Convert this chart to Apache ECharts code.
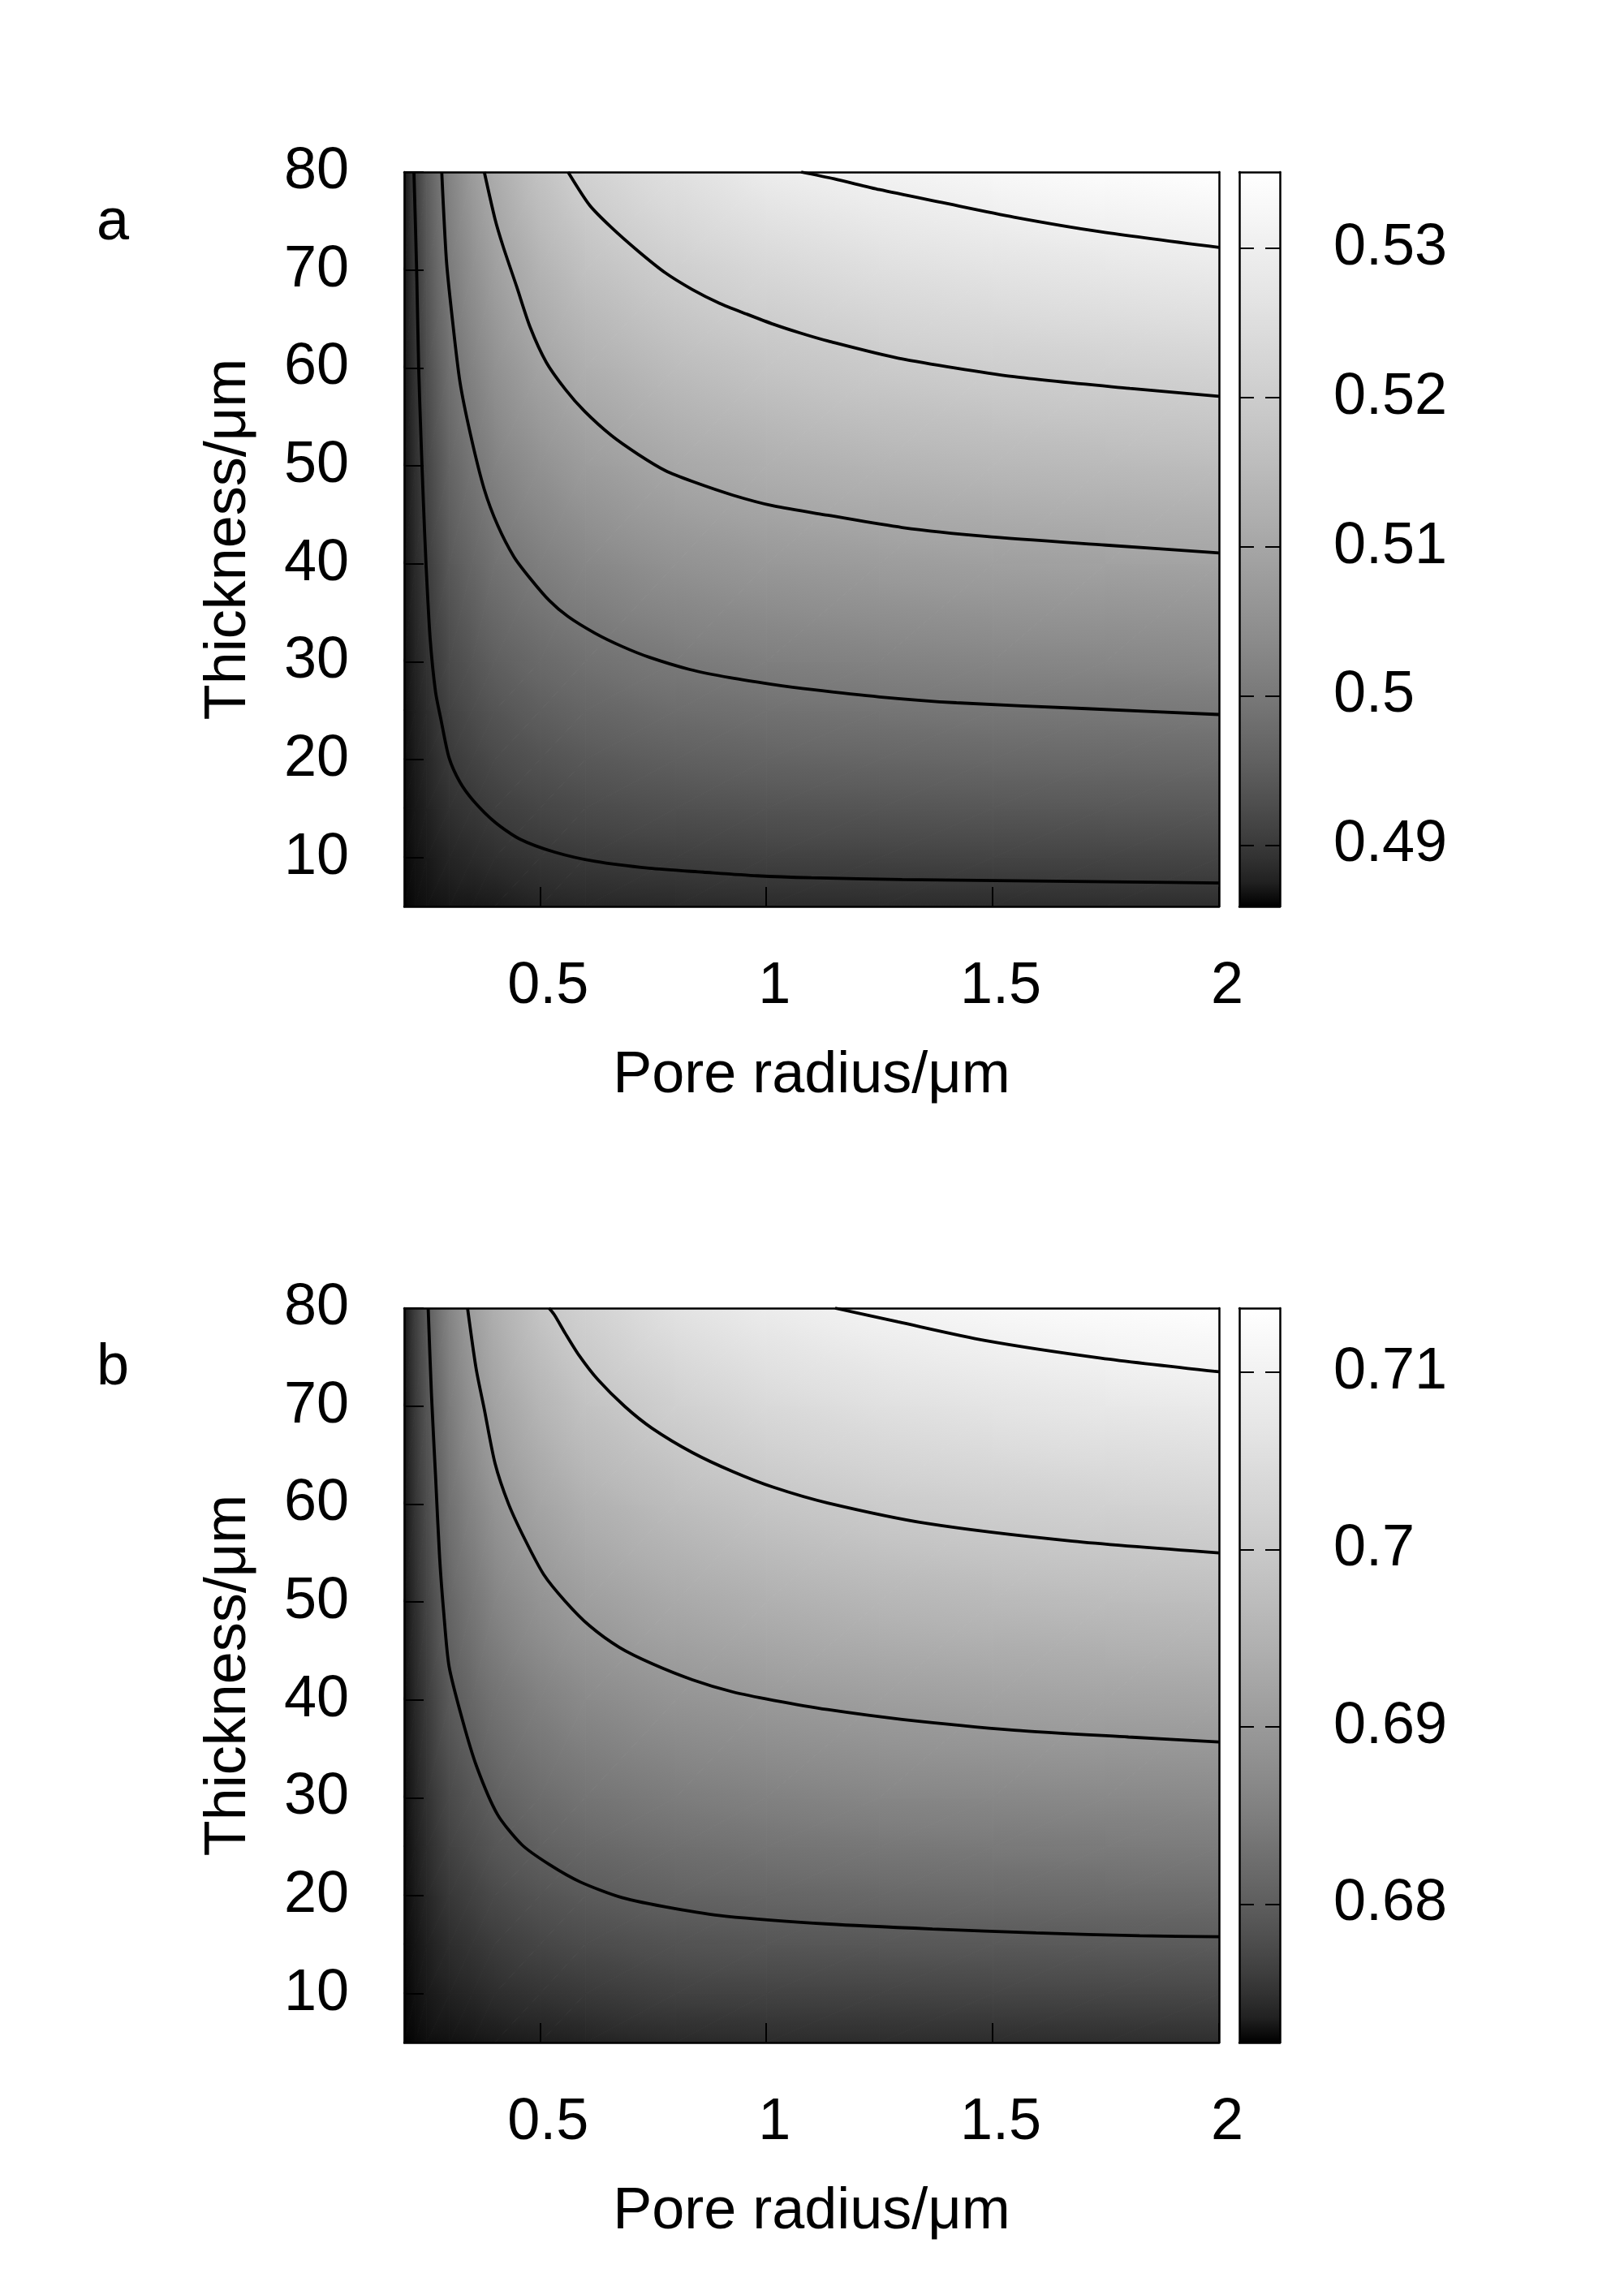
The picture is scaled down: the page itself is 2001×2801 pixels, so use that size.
<!DOCTYPE html>
<html>
<head>
<meta charset="utf-8">
<script src="https://cdn.jsdelivr.net/npm/echarts@6.0.0/dist/echarts.min.js"></script>
<style>
    html, body { margin: 0; padding: 0; background: #fff; }
    #chart { width: 2001px; height: 2801px; }
</style>
</head>
<body>
<div id="chart"></div>
<script>
// grid nodes of the maps (pore radius / thickness, both in um)
var radiusCols = [0.2, 0.225, 0.25, 0.3, 0.35, 0.4, 0.5, 0.6, 0.8, 1.0, 1.25, 1.5, 1.75, 2.0];
var thicknessRows = [5, 10, 15, 20, 25, 30, 40, 50, 60, 70, 80];

var xTicks = [0.5, 1, 1.5, 2];
var yTicks = [10, 20, 30, 40, 50, 60, 70, 80];

var cbRangeA = [0.4859, 0.5351];
var cbTicksA = [0.49, 0.50, 0.51, 0.52, 0.53];
var cbRangeB = [0.6722, 0.7136];
var cbTicksB = [0.68, 0.69, 0.70, 0.71];

// panel a values, one array per radius column, bottom to top
var valuesA = [
    [0.4859, 0.4860, 0.4860, 0.4861, 0.4861, 0.4862, 0.4863, 0.4864, 0.4865, 0.4866, 0.4867],
    [0.4862, 0.4865, 0.4868, 0.4871, 0.4874, 0.4877, 0.4883, 0.4888, 0.4892, 0.4897, 0.4904],
    [0.4864, 0.4869, 0.4875, 0.4880, 0.4885, 0.4891, 0.4902, 0.4913, 0.4926, 0.4938, 0.4950],
    [0.4867, 0.4878, 0.4889, 0.4900, 0.4910, 0.4921, 0.4942, 0.4962, 0.4983, 0.5004, 0.5022],
    [0.4868, 0.4883, 0.4897, 0.4911, 0.4924, 0.4938, 0.4965, 0.4993, 0.5020, 0.5047, 0.5074],
    [0.4870, 0.4888, 0.4905, 0.4921, 0.4937, 0.4954, 0.4987, 0.5019, 0.5051, 0.5083, 0.5115],
    [0.4877, 0.4896, 0.4915, 0.4934, 0.4953, 0.4972, 0.5011, 0.5051, 0.5092, 0.5132, 0.5172],
    [0.4880, 0.4901, 0.4922, 0.4943, 0.4964, 0.4985, 0.5029, 0.5075, 0.5121, 0.5167, 0.5212],
    [0.4882, 0.4906, 0.4930, 0.4954, 0.4978, 0.5002, 0.5053, 0.5105, 0.5155, 0.5205, 0.5256],
    [0.4884, 0.4910, 0.4935, 0.4961, 0.4986, 0.5012, 0.5067, 0.5121, 0.5175, 0.5230, 0.5290],
    [0.4885, 0.4911, 0.4938, 0.4965, 0.4992, 0.5020, 0.5077, 0.5135, 0.5193, 0.5251, 0.5310],
    [0.4885, 0.4913, 0.4941, 0.4969, 0.4997, 0.5026, 0.5084, 0.5144, 0.5204, 0.5265, 0.5326],
    [0.4886, 0.4914, 0.4943, 0.4971, 0.4999, 0.5029, 0.5089, 0.5150, 0.5212, 0.5276, 0.5340],
    [0.4886, 0.4915, 0.4944, 0.4973, 0.5002, 0.5033, 0.5093, 0.5156, 0.5219, 0.5285, 0.5351]
];

// panel b values
var valuesB = [
    [0.6722, 0.6722, 0.6723, 0.6723, 0.6723, 0.6724, 0.6724, 0.6725, 0.6726, 0.6726, 0.6727],
    [0.6723, 0.6726, 0.6728, 0.6731, 0.6733, 0.6736, 0.6741, 0.6746, 0.6752, 0.6757, 0.6762],
    [0.6725, 0.6730, 0.6734, 0.6739, 0.6744, 0.6749, 0.6758, 0.6768, 0.6777, 0.6787, 0.6796],
    [0.6726, 0.6736, 0.6745, 0.6755, 0.6765, 0.6774, 0.6794, 0.6811, 0.6828, 0.6844, 0.6861],
    [0.6728, 0.6740, 0.6752, 0.6764, 0.6777, 0.6789, 0.6813, 0.6836, 0.6860, 0.6884, 0.6908],
    [0.6730, 0.6745, 0.6759, 0.6774, 0.6789, 0.6803, 0.6831, 0.6860, 0.6888, 0.6917, 0.6943],
    [0.6733, 0.6751, 0.6769, 0.6786, 0.6804, 0.6821, 0.6854, 0.6888, 0.6922, 0.6956, 0.6990],
    [0.6736, 0.6756, 0.6776, 0.6795, 0.6814, 0.6833, 0.6870, 0.6908, 0.6946, 0.6984, 0.7020],
    [0.6741, 0.6764, 0.6785, 0.6806, 0.6826, 0.6847, 0.6889, 0.6931, 0.6973, 0.7016, 0.7061],
    [0.6743, 0.6766, 0.6789, 0.6811, 0.6833, 0.6855, 0.6899, 0.6945, 0.6991, 0.7038, 0.7085],
    [0.6744, 0.6767, 0.6791, 0.6815, 0.6839, 0.6863, 0.6908, 0.6958, 0.7006, 0.7055, 0.7105],
    [0.6744, 0.6769, 0.6793, 0.6818, 0.6842, 0.6866, 0.6914, 0.6965, 0.7014, 0.7066, 0.7118],
    [0.6745, 0.6770, 0.6795, 0.6820, 0.6844, 0.6869, 0.6919, 0.6970, 0.7021, 0.7075, 0.7128],
    [0.6746, 0.6771, 0.6796, 0.6821, 0.6846, 0.6871, 0.6922, 0.6974, 0.7027, 0.7081, 0.7136]
];

// contour lines, [radius, thickness]
var contourA049 = [[0.2215, 80], [0.2275, 70], [0.232, 60], [0.237, 53], [0.2425, 46.2], [0.2484, 39.8],
    [0.2573, 32.4], [0.2693, 26.9], [0.2812, 24.1], [0.2991, 20.2], [0.3231, 17.7], [0.3529, 15.8],
    [0.4007, 13.6], [0.4545, 11.9], [0.5321, 10.55], [0.6217, 9.6], [0.7412, 8.9], [0.8608, 8.5],
    [0.9801, 8.13], [1.0996, 7.93], [1.3, 7.75], [1.55, 7.62], [1.8, 7.5], [2.0, 7.4]];
var contourA050 = [[0.283, 80], [0.2932, 71.05], [0.3052, 65.5], [0.3231, 58.6], [0.347, 53.1], [0.3769, 47.6],
    [0.4067, 43.9], [0.4425, 40.7], [0.4783, 38.5], [0.5203, 36.25], [0.562, 34.6], [0.6217, 32.9],
    [0.6815, 31.55], [0.7412, 30.45], [0.8308, 29.2], [0.9204, 28.35], [1.01, 27.7], [1.0996, 27.15],
    [1.25, 26.4], [1.42, 25.8], [1.707, 25.2], [2.0, 24.6]];
var contourA051 = [[0.377, 80], [0.4007, 75.2], [0.4186, 72.4], [0.4485, 68.3], [0.4783, 64.15],
    [0.5142, 60.55], [0.5561, 57.8], [0.5978, 55.6], [0.6575, 53.1], [0.7174, 51.15], [0.7771, 49.5],
    [0.8367, 48.4], [0.9263, 47.0], [1.016, 45.9], [1.1355, 44.95], [1.3, 43.7], [1.483, 42.8],
    [1.75, 41.9], [2.0, 41.1]];
var contourA052 = [[0.562, 80], [0.6098, 76.6], [0.6575, 74.35], [0.7174, 71.9], [0.7771, 69.7], [0.8367, 68.0],
    [0.8966, 66.6], [0.9563, 65.5], [1.016, 64.45], [1.0758, 63.55], [1.1355, 62.75], [1.291, 61.0],
    [1.547, 59.1], [1.803, 57.9], [2.0, 57.1]];
var contourA053 = [[1.077, 80], [1.15, 79.3], [1.25, 78.2], [1.387, 76.9], [1.547, 75.4], [1.739, 73.9],
    [2.0, 72.3]];

var contourB068 = [[0.253, 80], [0.2604, 71.05], [0.2694, 62.75], [0.2783, 54.5], [0.2873, 48.95],
    [0.2992, 43.4], [0.329, 37.9], [0.36, 33.2], [0.406, 28.3], [0.46, 25.2], [0.52, 23.2], [0.589, 21.4],
    [0.681, 19.8], [0.795, 18.7], [0.91, 17.9], [1.139, 17.1], [1.367, 16.6], [1.596, 16.2], [1.825, 15.9],
    [2.0, 15.8]];
var contourB069 = [[0.34, 80], [0.359, 73.8], [0.3769, 69.7], [0.4007, 64.15], [0.4306, 60.0], [0.4665, 56.4],
    [0.5082, 52.8], [0.5561, 50.05], [0.6098, 47.55], [0.6755, 45.35], [0.7471, 43.7], [0.8367, 42.05],
    [0.9263, 40.8], [1.016, 39.95], [1.1355, 39.0], [1.3, 38.0], [1.548, 36.9], [1.8, 36.2], [2.0, 35.7]];
var contourB070 = [[0.52, 80], [0.5321, 79.3], [0.5561, 77.4], [0.5859, 75.2], [0.6278, 72.7], [0.6875, 69.95],
    [0.7471, 67.75], [0.8367, 65.25], [0.9263, 63.3], [1.016, 61.7], [1.1355, 60.1], [1.356, 58.0],
    [1.676, 56.2], [2.0, 55.0]];
var contourB071 = [[1.152, 80], [1.291, 78.6], [1.483, 76.7], [1.739, 74.9], [2.0, 73.5]];

var FONT = 'Liberation Sans';
var GAMMA = 0.6;

function grayOf(v, range) {
    var t = (v - range[0]) / (range[1] - range[0]);
    t = Math.min(1, Math.max(0, t));
    var g = Math.round(255 * Math.pow(t, GAMMA));
    return 'rgb(' + g + ',' + g + ',' + g + ')';
}

// two triangles per grid cell, each [x,y,v, x,y,v, x,y,v]
function buildTriangles(values) {
    var tris = [];
    for (var i = 0; i < radiusCols.length - 1; i++) {
        for (var j = 0; j < thicknessRows.length - 1; j++) {
            var x0 = radiusCols[i], x1 = radiusCols[i + 1];
            var y0 = thicknessRows[j], y1 = thicknessRows[j + 1];
            var v00 = values[i][j], v10 = values[i + 1][j];
            var v01 = values[i][j + 1], v11 = values[i + 1][j + 1];
            tris.push([x0, y0, v00, x1, y0, v10, x1, y1, v11]);
            tris.push([x0, y0, v00, x1, y1, v11, x0, y1, v01]);
        }
    }
    return tris;
}

// linear gradient along the slope of the plane through the 3 corners
function triangleFill(p, v, range) {
    var d2x = p[1][0] - p[0][0], d2y = p[1][1] - p[0][1];
    var d3x = p[2][0] - p[0][0], d3y = p[2][1] - p[0][1];
    var f2 = v[1] - v[0], f3 = v[2] - v[0];
    var det = d2x * d3y - d2y * d3x;
    var ax = (f2 * d3y - f3 * d2y) / det;
    var ay = (d2x * f3 - d3x * f2) / det;
    var len = Math.sqrt(ax * ax + ay * ay);
    if (!isFinite(len) || len < 1e-12) {
        return grayOf(v[0], range);
    }
    var ux = ax / len, uy = ay / len;
    var t = p.map(function (q) { return q[0] * ux + q[1] * uy; });
    var tmin = Math.min(t[0], t[1], t[2]);
    var tmax = Math.max(t[0], t[1], t[2]);
    var vs = v[0] + len * (tmin - t[0]);
    var ve = v[0] + len * (tmax - t[0]);
    var stops = [];
    for (var k = 0; k <= 4; k++) {
        stops.push({ offset: k / 4, color: grayOf(vs + (ve - vs) * k / 4, range) });
    }
    return {
        type: 'linear',
        x: p[0][0] + (tmin - t[0]) * ux, y: p[0][1] + (tmin - t[0]) * uy,
        x2: p[0][0] + (tmax - t[0]) * ux, y2: p[0][1] + (tmax - t[0]) * uy,
        colorStops: stops,
        global: true
    };
}

function fieldRenderer(range) {
    return function (params, api) {
        var pts = [], vals = [];
        for (var k = 0; k < 3; k++) {
            pts.push(api.coord([api.value(3 * k), api.value(3 * k + 1)]));
            vals.push(api.value(3 * k + 2));
        }
        var fill = triangleFill(pts, vals, range);
        return {
            type: 'polygon',
            shape: { points: pts },
            style: { fill: fill, stroke: fill, lineWidth: 1 }
        };
    };
}

function colorbarRenderer(range) {
    return function (params, api) {
        var tl = api.coord([0, range[1]]);
        var br = api.coord([1, range[0]]);
        var stops = [];
        for (var k = 0; k <= 30; k++) {
            stops.push({ offset: k / 30, color: grayOf(range[1] - (range[1] - range[0]) * k / 30, range) });
        }
        return {
            type: 'rect',
            shape: { x: tl[0], y: tl[1], width: br[0] - tl[0], height: br[1] - tl[1] },
            style: { fill: { type: 'linear', x: 0, y: 0, x2: 0, y2: 1, colorStops: stops } }
        };
    };
}

var lineBlack = { color: '#000', width: 2.5 };
var labelStyle = { color: '#000', fontSize: 72, fontFamily: FONT };

function borderAxis(gridIndex, position, min, max) {
    return {
        type: 'value', gridIndex: gridIndex, position: position, min: min, max: max, z: 5,
        axisLine: { show: true, onZero: false, lineStyle: lineBlack },
        axisTick: { show: false }, axisLabel: { show: false }, splitLine: { show: false }
    };
}

function panelAxes(g, cbRange, cbTicks) {
    var xs = [
        {
            type: 'value', gridIndex: g, position: 'bottom', min: 0.2, max: 2, z: 5,
            name: 'Pore radius/\u03bcm', nameLocation: 'middle', nameGap: 173,
            nameTextStyle: labelStyle,
            axisLine: { show: true, onZero: false, lineStyle: lineBlack },
            axisTick: { show: true, inside: true, length: 24, customValues: xTicks, lineStyle: { color: '#000', width: 2 } },
            axisLabel: Object.assign({ margin: 63, customValues: xTicks, padding: [0, 0, 0, 20] }, labelStyle),
            splitLine: { show: false }
        },
        borderAxis(g, 'top', 0.2, 2),
        borderAxis(g + 1, 'bottom', 0, 1),
        borderAxis(g + 1, 'top', 0, 1)
    ];
    var ys = [
        {
            type: 'value', gridIndex: g, position: 'left', min: 5, max: 80, z: 5,
            name: 'Thickness/\u03bcm', nameLocation: 'middle', nameGap: 180,
            nameTextStyle: labelStyle,
            axisLine: { show: true, onZero: false, lineStyle: lineBlack },
            axisTick: { show: true, inside: true, length: 24, customValues: yTicks, lineStyle: { color: '#000', width: 2 } },
            axisLabel: Object.assign({ margin: 68, customValues: yTicks, padding: [12, 0, 0, 0] }, labelStyle),
            splitLine: { show: false }
        },
        borderAxis(g, 'right', 5, 80),
        {
            type: 'value', gridIndex: g + 1, position: 'right', min: cbRange[0], max: cbRange[1], z: 5,
            axisLine: { show: true, onZero: false, lineStyle: lineBlack },
            axisTick: { show: true, inside: true, length: 18, customValues: cbTicks, lineStyle: { color: '#000', width: 2 } },
            axisLabel: Object.assign({ margin: 66, customValues: cbTicks, padding: [12, 0, 0, 0] }, labelStyle),
            splitLine: { show: false }
        },
        {
            type: 'value', gridIndex: g + 1, position: 'left', min: cbRange[0], max: cbRange[1], z: 5,
            axisLine: { show: true, onZero: false, lineStyle: lineBlack },
            axisTick: { show: true, inside: true, length: 18, customValues: cbTicks, lineStyle: { color: '#000', width: 2 } },
            axisLabel: { show: false },
            splitLine: { show: false }
        }
    ];
    return { x: xs, y: ys };
}

function contourSeries(axisIndex, data) {
    return {
        type: 'line', xAxisIndex: axisIndex, yAxisIndex: axisIndex, data: data,
        smooth: 0.25, symbol: 'none', clip: true, z: 3, silent: true,
        lineStyle: { color: '#000', width: 3.8 }
    };
}

function panelSeries(axisBase, values, cbRange, contours) {
    var list = [
        {
            type: 'custom', xAxisIndex: axisBase, yAxisIndex: axisBase, z: 1, silent: true,
            renderItem: fieldRenderer(cbRange), data: buildTriangles(values),
            encode: { x: [0, 3, 6], y: [1, 4, 7] }
        },
        {
            type: 'custom', xAxisIndex: axisBase + 2, yAxisIndex: axisBase + 2, z: 1, silent: true,
            renderItem: colorbarRenderer(cbRange), data: [[0, cbRange[0]]]
        }
    ];
    contours.forEach(function (c) { list.push(contourSeries(axisBase, c)); });
    return list;
}

var PANEL_TOP = [212, 1612];
var grids = [];
PANEL_TOP.forEach(function (top) {
    grids.push({ left: 498, top: top, width: 1004, height: 905, show: false, outerBoundsMode: 'none' });
    grids.push({ left: 1527, top: top, width: 50, height: 905, show: false, outerBoundsMode: 'none' });
});

var axA = panelAxes(0, cbRangeA, cbTicksA);
var axB = panelAxes(2, cbRangeB, cbTicksB);

var chart = echarts.init(document.getElementById('chart'), null, { renderer: 'canvas' });

chart.setOption({
    backgroundColor: '#fff',
    animation: false,
    grid: grids,
    xAxis: axA.x.concat(axB.x),
    yAxis: axA.y.concat(axB.y),
    graphic: [
        { type: 'text', x: 139, y: 275, style: { text: 'a', fill: '#000', font: '72px "Liberation Sans"', align: 'center', verticalAlign: 'middle', textAlign: 'center', textVerticalAlign: 'middle' } },
        { type: 'text', x: 139, y: 1686, style: { text: 'b', fill: '#000', font: '72px "Liberation Sans"', align: 'center', verticalAlign: 'middle', textAlign: 'center', textVerticalAlign: 'middle' } }
    ],
    series: panelSeries(0, valuesA, cbRangeA, [contourA049, contourA050, contourA051, contourA052, contourA053])
        .concat(panelSeries(4, valuesB, cbRangeB, [contourB068, contourB069, contourB070, contourB071]))
});
</script>
</body>
</html>
